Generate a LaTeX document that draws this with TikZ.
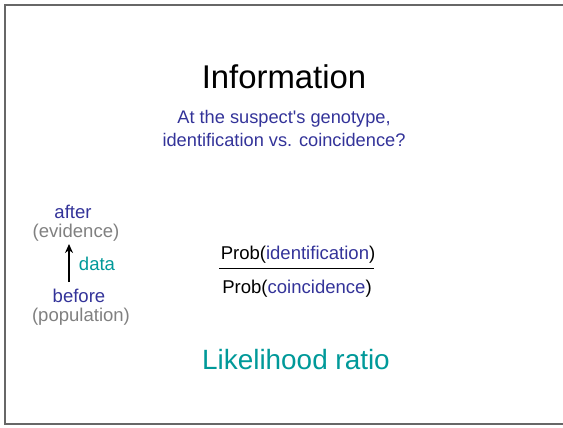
\documentclass[tikz,border=0pt]{standalone}
\usepackage{fontspec}
\setmainfont{Liberation Sans}
\usetikzlibrary{arrows.meta}
\definecolor{ink}{RGB}{51,51,153}
\definecolor{teal}{RGB}{0,153,153}
\definecolor{soft}{RGB}{128,128,128}
\begin{document}
\begin{tikzpicture}
      [x=1bp,y=-1bp,
      txt/.style={anchor=base,inner sep=0pt,font=\fontsize{18.6}{22}\selectfont},
      big/.style={anchor=base,inner sep=0pt,font=\fontsize{33}{38}\selectfont}]
      \useasboundingbox (0,0) rectangle (563,427);
      \draw[soft!80!black,line width=2bp] (564,4.5) -- (4.5,4.5) -- (4.5,424) -- (564,424);
      \node[big] (title) at (284,88) {Information};
      \node[txt,ink,font=\fontsize{18.3}{21}\selectfont] (q1) at (284,123) {At the suspect\textquotesingle s genotype,};
      \node[txt,ink,font=\fontsize{18.3}{21}\selectfont] (q2) at (284,146) {identification vs. coincidence?};
      \node[txt,ink] (after) at (73,218) {after};
      \node[txt,soft] (evid) at (76,237) {(evidence)};
      \node[txt,ink] (before) at (79,302) {before};
      \node[txt,soft] (pop) at (81,321) {(population)};
      \node[txt,teal] (data) at (97,270) {data};
      \coordinate (a0) at (69,282);
      \coordinate (a1) at (69,244);
      \draw[-{Stealth[length=9bp,width=8bp]},line width=1.6bp] (a0) -- (a1);
      \node[txt] (num) at (298,259) {Prob(\textcolor{ink}{identification})};
      \node[txt] (den) at (297,293) {Prob(\textcolor{ink}{coincidence})};
      \coordinate (f0) at (219,268);
      \coordinate (f1) at (374,268);
      \draw[line width=0.8bp] (f0) -- (f1);
      \node[anchor=base,inner sep=0pt,teal,font=\fontsize{28}{32}\selectfont] (lr) at (296,369) {Likelihood ratio};
\end{tikzpicture}
\end{document}
